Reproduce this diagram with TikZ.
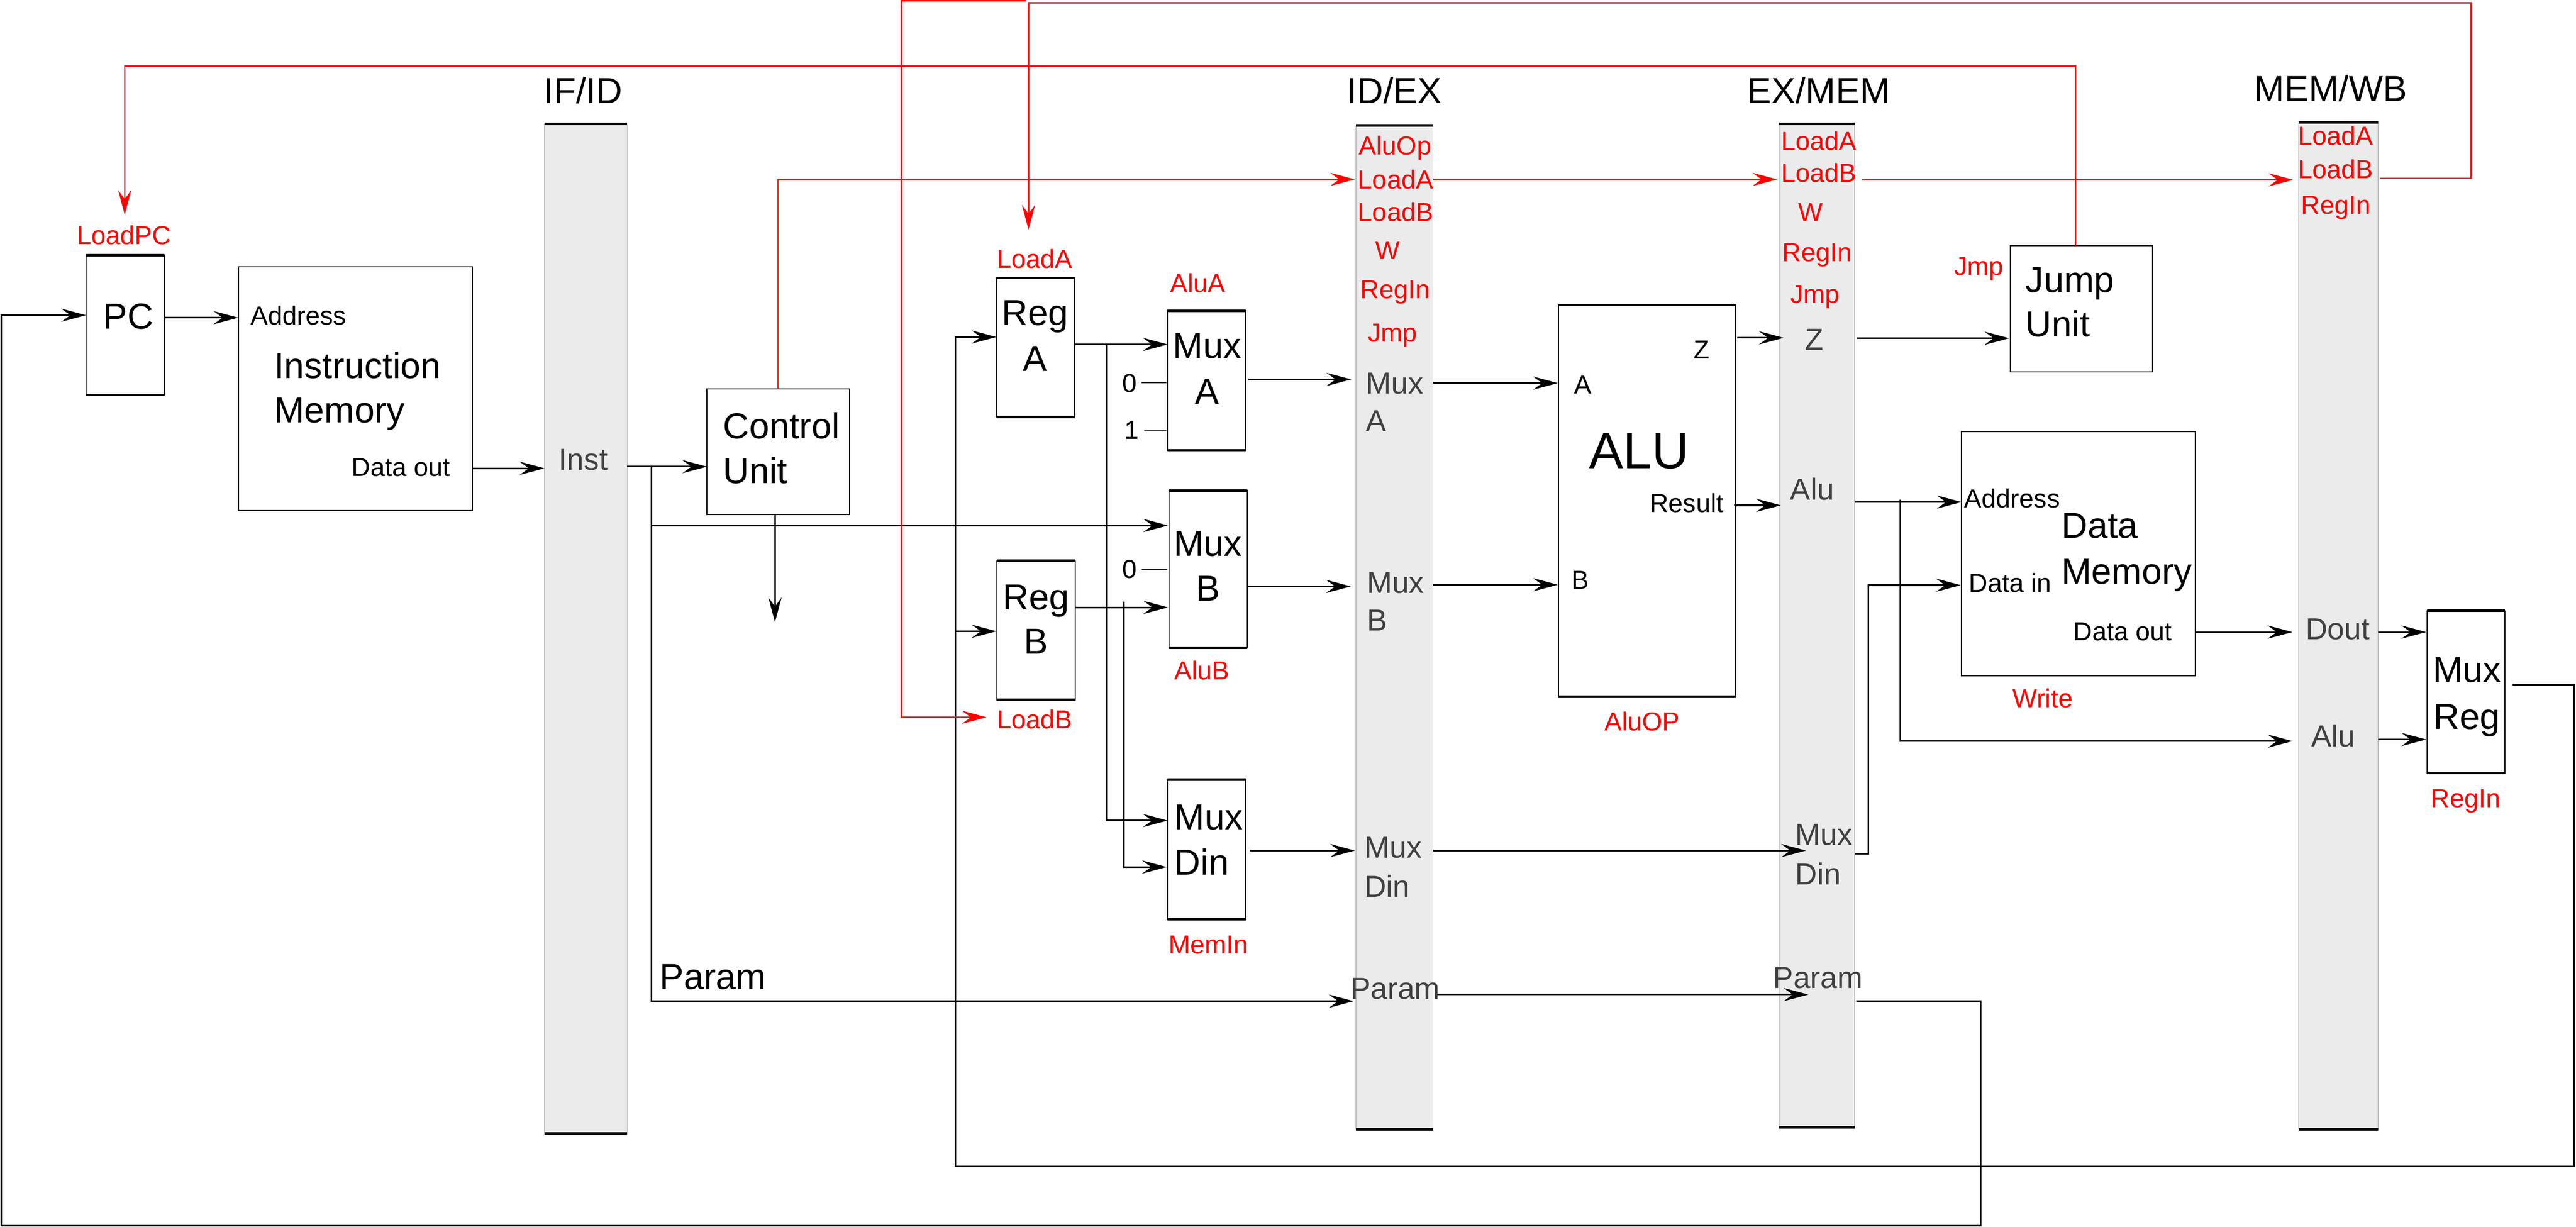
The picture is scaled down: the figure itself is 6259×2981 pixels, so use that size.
\documentclass[tikz,border=0pt]{standalone}
\usepackage{fontspec}
\setmainfont{Liberation Sans}
\usetikzlibrary{arrows.meta}
\definecolor{barfill}{HTML}{EBEBEB}
\definecolor{baredge}{HTML}{BDBDBD}
\definecolor{txtgray}{HTML}{404040}
\definecolor{sigred}{HTML}{FF0000}
\begin{document}
\begin{tikzpicture}[x=0.1mm, y=-0.1mm,
  every node/.style={inner sep=0pt, outer sep=0pt},
  box/.style={draw, line width=0.25mm, anchor=north west},
  bar/.style={fill=barfill, draw=baredge, line width=0.2mm, anchor=north west},
  thickln/.style={line width=0.6mm},
  bigt/.style={font=\fontsize{25}{30}\selectfont, text height=17.9pt, text depth=0pt},
  smallt/.style={font=\fontsize{18}{21}\selectfont, text height=12.9pt, text depth=0pt},
  midt/.style={font=\fontsize{21}{25}\selectfont, text height=15pt, text depth=0pt, text=txtgray},
  alut/.style={font=\fontsize{35.5}{40}\selectfont, text height=25.4pt, text depth=0pt},
  redt/.style={smallt, text=sigred},
  wire/.style={line width=0.38mm},
  rwire/.style={line width=0.3mm, draw=sigred},
  arr/.style={-{Stealth[length=6mm,width=3.2mm,inset=2.2mm]}},
]
\useasboundingbox (0,0) rectangle (6259,2981);

% ---------- pipeline bars ----------
\node[bar, minimum width=20.1mm, minimum height=245.4mm] (ifid) at (1323,301) {};
\node[bar, minimum width=18.7mm, minimum height=244.0mm] (idex) at (3295,305) {};
\node[bar, minimum width=18.3mm, minimum height=243.9mm] (exmem) at (4323,301) {};
\node[bar, minimum width=19.3mm, minimum height=244.8mm] (memwb) at (5585,297) {};

% ---------- boxes ----------
\node[box, minimum width=19mm, minimum height=34mm] (pc) at (209,620) {};
\node[box, minimum width=56.9mm, minimum height=59.2mm] (im) at (579,649) {};
\node[box, minimum width=34.6mm, minimum height=30.5mm] (cu) at (1718,945) {};
\node[box, minimum width=19mm, minimum height=33.7mm] (rega) at (2421,676) {};
\node[box, minimum width=19mm, minimum height=33.8mm] (regb) at (2422,1363) {};
\node[box, minimum width=19mm, minimum height=33.9mm] (muxa) at (2837,755) {};
\node[box, minimum width=19mm, minimum height=38.2mm] (muxb) at (2840,1192) {};
\node[box, minimum width=19mm, minimum height=33.9mm] (muxdin) at (2837,1895) {};
\node[box, minimum width=43mm, minimum height=95.2mm] (alu) at (3787,741) {};
\node[box, minimum width=34.6mm, minimum height=30.7mm] (jump) at (4884,597) {};
\node[box, minimum width=56.8mm, minimum height=59.3mm] (dm) at (4766,1049) {};
\node[box, minimum width=18.9mm, minimum height=39.5mm] (muxreg) at (5897,1484) {};

\foreach \n in {pc,rega,regb,muxa,muxb,muxdin,alu,muxreg,ifid,idex,exmem,memwb}
  \draw[thickln] (\n.north west) -- (\n.north east) (\n.south west) -- (\n.south east);

% ---------- titles ----------
\node[bigt] (tifid) at (1417,219) {IF/ID};
\node[bigt] (tidex) at (3388,219) {ID/EX};
\node[bigt] (texmem) at (4419,219) {EX/MEM};
\node[bigt] (tmemwb) at (5663,214) {MEM/WB};

% ---------- PC / instruction memory / control ----------
\node[redt] (lloadpc) at (301,571) {LoadPC};
\node[bigt] (lpc) at (312,768) {PC};
\node[smallt, anchor=west] (limaddr) at (609,766) {Address};
\node[bigt, anchor=west] (limi) at (666,888) {Instruction};
\node[bigt, anchor=west] (limm) at (666,996) {Memory};
\node[smallt, anchor=east] (limout) at (1094,1134) {Data out};
\node[midt] (linst) at (1417,1116) {Inst};
\node[bigt, anchor=west] (lcu1) at (1757,1034) {Control};
\node[bigt, anchor=west] (lcu2) at (1757,1143) {Unit};
\node[bigt, anchor=west] (lparam) at (1603,2372) {Param};

% ---------- registers and muxes ----------
\node[redt] (lloada) at (2514,629) {LoadA};
\node[bigt] (lrega1) at (2515,759) {Reg};
\node[bigt] (lrega2) at (2515,871) {A};
\node[redt] (lalua) at (2910,688) {AluA};
\node[bigt] (lmuxa1) at (2933,839) {Mux};
\node[bigt] (lmuxa2) at (2933,951) {A};
\node[smallt] (lzeroa) at (2745,930) {0};
\node[smallt] (lonea) at (2750,1045) {1};
\node[bigt] (lmuxb1) at (2935,1320) {Mux};
\node[bigt] (lmuxb2) at (2935,1429) {B};
\node[smallt] (lzerob) at (2745,1383) {0};
\node[redt] (lalub) at (2920,1629) {AluB};
\node[bigt] (lregb1) at (2517,1450) {Reg};
\node[bigt] (lregb2) at (2517,1558) {B};
\node[redt] (lloadb) at (2514,1748) {LoadB};
\node[bigt] (lmuxd1) at (2937,1984) {Mux};
\node[bigt, anchor=west] (lmuxd2) at (2854,2095) {Din};
\node[redt] (lmemin) at (2936,2295) {MemIn};

% ---------- ID/EX contents ----------
\node[redt] (ie1) at (3390,353) {AluOp};
\node[redt] (ie2) at (3391,436) {LoadA};
\node[redt] (ie3) at (3391,515) {LoadB};
\node[redt] (ie4) at (3372,607) {W};
\node[redt] (ie5) at (3390,703) {RegIn};
\node[redt] (ie6) at (3384,808) {Jmp};
\node[midt, anchor=west] (ie7) at (3319,931) {Mux};
\node[midt, anchor=west] (ie8) at (3319,1022) {A};
\node[midt, anchor=west] (ie9) at (3321,1415) {Mux};
\node[midt, anchor=west] (ie10) at (3321,1506) {B};
\node[midt, anchor=west] (ie11) at (3315,2059) {Mux};
\node[midt, anchor=west] (ie12) at (3315,2154) {Din};
\node[midt] (ie13) at (3390,2401) {Param};

% ---------- ALU ----------
\node[smallt, anchor=west] (lalu_a) at (3825,934) {A};
\node[smallt] (lalu_z) at (4135,849) {Z};
\node[alut] (lalu) at (3982,1094) {ALU};
\node[smallt, anchor=east] (lalu_r) at (4188,1222) {Result};
\node[smallt, anchor=west] (lalu_b) at (3819,1409) {B};
\node[redt] (laluop) at (3990,1753) {AluOP};

% ---------- EX/MEM contents ----------
\node[redt] (em1) at (4419,342) {LoadA};
\node[redt] (em2) at (4419,420) {LoadB};
\node[redt] (em3) at (4399,515) {W};
\node[redt] (em4) at (4415,612) {RegIn};
\node[redt] (em5) at (4410,714) {Jmp};
\node[midt] (em6) at (4408,824) {Z};
\node[midt] (em7) at (4403,1189) {Alu};
\node[midt, anchor=west] (em8) at (4362,2027) {Mux};
\node[midt, anchor=west] (em9) at (4362,2123) {Din};
\node[midt] (em10) at (4417,2375) {Param};

% ---------- jump unit / data memory ----------
\node[redt] (ljmp) at (4808,647) {Jmp};
\node[bigt, anchor=west] (lju1) at (4922,679) {Jump};
\node[bigt, anchor=west] (lju2) at (4922,786) {Unit};
\node[smallt, anchor=west] (ldmaddr) at (4773,1211) {Address};
\node[bigt, anchor=west] (ldm1) at (5009,1276) {Data};
\node[bigt, anchor=west] (ldm2) at (5009,1388) {Memory};
\node[smallt, anchor=west] (ldmin) at (4784,1416) {Data in};
\node[smallt, anchor=east] (ldmout) at (5277,1534) {Data out};
\node[redt] (lwrite) at (4963,1697) {Write};

% ---------- MEM/WB contents ----------
\node[redt] (mw1) at (5675,330) {LoadA};
\node[redt] (mw2) at (5675,411) {LoadB};
\node[redt] (mw3) at (5676,497) {RegIn};
\node[midt] (mw4) at (5680,1528) {Dout};
\node[midt] (mw5) at (5669,1788) {Alu};
\node[bigt] (lmr1) at (5994,1627) {Mux};
\node[bigt] (lmr2) at (5994,1740) {Reg};
\node[redt] (lmrregin) at (5991,1940) {RegIn};

% ---------- coordinates ----------
\coordinate (fbA) at (4510,2433); \coordinate (fbB) at (4813,2433);
\coordinate (fbC) at (4813,2978); \coordinate (fbD) at (3,2978);
\coordinate (fbE) at (3,766);     \coordinate (pcin) at (209,766);
\coordinate (pcout) at (399,772); \coordinate (imaddr) at (579,772);
\coordinate (imout) at (1148,1138); \coordinate (ifidin) at (1323,1138);
\coordinate (ifidout) at (1524,1134); \coordinate (cuin) at (1718,1134);
\coordinate (j1) at (1583,1134); \coordinate (j2) at (1583,2433);
\coordinate (idexpin) at (3289,2433);
\coordinate (j3) at (1583,1277); \coordinate (muxbin1) at (2838,1277);
\coordinate (cubot) at (1883,1250); \coordinate (cudown) at (1883,1512);
\coordinate (cutop) at (1890,945); \coordinate (cuc) at (1890,436);
\coordinate (idexctl) at (3292,436);
\coordinate (idexctlout) at (3482,436); \coordinate (exmemctl) at (4318,436);
\coordinate (exmemctlout) at (4524,437); \coordinate (memwbctl) at (5572,437);
\coordinate (memwbout) at (5782,433); \coordinate (r1) at (6004,433);
\coordinate (r2) at (6004,7); \coordinate (r3) at (2499,7);
\coordinate (regaload) at (2499,558);
\coordinate (r4) at (2494,2); \coordinate (r5) at (2190,2);
\coordinate (r6) at (2190,1743); \coordinate (regbload) at (2397,1743);
\coordinate (jutop) at (5043,597); \coordinate (r7) at (5043,161);
\coordinate (r8) at (303,161); \coordinate (pcload) at (303,522);
\coordinate (fdtop) at (2321,819); \coordinate (regain) at (2421,819);
\coordinate (fdbot) at (2321,2835); \coordinate (fdmid) at (2321,1534);
\coordinate (regbin) at (2421,1534);
\coordinate (mrout) at (6105,1664); \coordinate (m1) at (6255,1664);
\coordinate (m2) at (6255,2835);
\coordinate (regaout) at (2610,837); \coordinate (muxain) at (2837,837);
\coordinate (ja) at (2688,837); \coordinate (ja2) at (2688,1994);
\coordinate (muxdin1) at (2837,1994);
\coordinate (regbout) at (2612,1476); \coordinate (muxbin2) at (2838,1476);
\coordinate (jb) at (2731,1462); \coordinate (jb2) at (2731,2107);
\coordinate (muxdin2) at (2835,2107);
\coordinate (muxaout) at (3033,922); \coordinate (idexa) at (3283,922);
\coordinate (muxbout) at (3030,1425); \coordinate (idexb) at (3282,1425);
\coordinate (muxdout) at (3037,2067); \coordinate (idexd) at (3292,2067);
\coordinate (idexaout) at (3482,931); \coordinate (alua) at (3785,931);
\coordinate (idexbout) at (3482,1421); \coordinate (alub) at (3785,1421);
\coordinate (idexdout) at (3483,2067); \coordinate (exmemd) at (4388,2067);
\coordinate (idexpout) at (3493,2417); \coordinate (exmemp) at (4394,2417);
\coordinate (aluz) at (4221,821); \coordinate (exmemz) at (4334,821);
\coordinate (alur) at (4213,1228); \coordinate (exmemr) at (4327,1228);
\coordinate (exmemzout) at (4511,822); \coordinate (juin) at (4882,822);
\coordinate (exmemrout) at (4508,1220); \coordinate (dmaddr) at (4766,1220);
\coordinate (jc) at (4617,1214); \coordinate (jc2) at (4617,1801);
\coordinate (memwbalu) at (5570,1801);
\coordinate (exmemdout) at (4506,2075); \coordinate (jd) at (4539,2075);
\coordinate (jd2) at (4539,1422); \coordinate (dmdin) at (4764,1422);
\coordinate (dmout) at (5334,1536); \coordinate (memwbd) at (5570,1536);
\coordinate (memwbdout) at (5778,1536); \coordinate (mrin1) at (5895,1536);
\coordinate (memwbaout) at (5778,1797); \coordinate (mrin2) at (5895,1797);
\coordinate (d0a1) at (2774,930); \coordinate (d0a2) at (2834,930);
\coordinate (d1a1) at (2780,1045); \coordinate (d1a2) at (2834,1045);
\coordinate (d0b1) at (2774,1383); \coordinate (d0b2) at (2837,1383);

% ---------- black wires ----------
\draw[wire, arr] (fbA) -- (fbB) -- (fbC) -- (fbD) -- (fbE) -- (pcin);
\draw[wire, arr] (pcout) -- (imaddr);
\draw[wire, arr] (imout) -- (ifidin);
\draw[wire, arr] (ifidout) -- (cuin);
\draw[wire, arr] (j1) -- (j2) -- (idexpin);
\draw[wire, arr] (j3) -- (muxbin1);
\draw[wire, arr] (cubot) -- (cudown);
\draw[wire, arr] (fdbot) -- (fdtop) -- (regain);
\draw[wire, arr] (fdmid) -- (regbin);
\draw[wire] (mrout) -- (m1) -- (m2) -- (fdbot);
\draw[wire, arr] (regaout) -- (muxain);
\draw[wire, arr] (ja) -- (ja2) -- (muxdin1);
\draw[wire, arr] (regbout) -- (muxbin2);
\draw[wire, arr] (jb) -- (jb2) -- (muxdin2);
\draw[wire, arr] (muxaout) -- (idexa);
\draw[wire, arr] (muxbout) -- (idexb);
\draw[wire, arr] (muxdout) -- (idexd);
\draw[wire, arr] (idexaout) -- (alua);
\draw[wire, arr] (idexbout) -- (alub);
\draw[wire, arr] (idexdout) -- (exmemd);
\draw[wire, arr] (idexpout) -- (exmemp);
\draw[wire, arr] (aluz) -- (exmemz);
\draw[wire, arr] (alur) -- (exmemr);
\draw[wire, arr] (exmemzout) -- (juin);
\draw[wire, arr] (exmemrout) -- (dmaddr);
\draw[wire, arr] (jc) -- (jc2) -- (memwbalu);
\draw[wire, arr] (exmemdout) -- (jd) -- (jd2) -- (dmdin);
\draw[wire, arr] (dmout) -- (memwbd);
\draw[wire, arr] (memwbdout) -- (mrin1);
\draw[wire, arr] (memwbaout) -- (mrin2);
\draw[line width=0.25mm] (d0a1) -- (d0a2) (d1a1) -- (d1a2) (d0b1) -- (d0b2);

% ---------- red control wires ----------
\draw[rwire, arr, sigred] (cutop) -- (cuc) -- (idexctl);
\draw[rwire, arr, sigred] (idexctlout) -- (exmemctl);
\draw[rwire, arr, sigred] (exmemctlout) -- (memwbctl);
\draw[rwire, arr, sigred] (memwbout) -- (r1) -- (r2) -- (r3) -- (regaload);
\draw[rwire, arr, sigred] (r4) -- (r5) -- (r6) -- (regbload);
\draw[rwire, arr, sigred] (jutop) -- (r7) -- (r8) -- (pcload);
\end{tikzpicture}
\end{document}
